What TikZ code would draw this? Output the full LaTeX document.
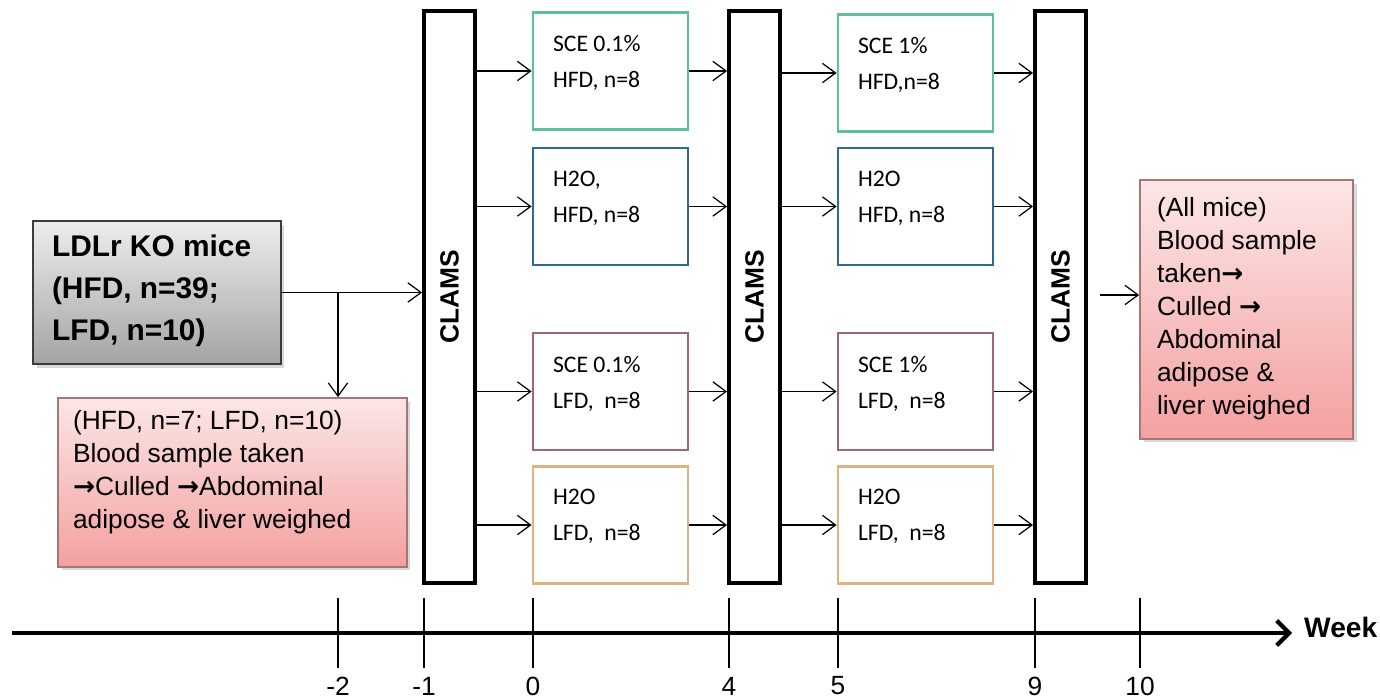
\documentclass[tikz,border=0pt]{standalone}
\usepackage{fontspec}
\setmainfont{Liberation Sans}
\newfontfamily\calibrifont{Carlito}
\newfontfamily\arrowfont{DejaVu Sans}
\usetikzlibrary{positioning, calc, arrows.meta, shadows}

\definecolor{scehfd}{HTML}{5FBF9F}
\definecolor{h2ohfd}{HTML}{2E6B8E}
\definecolor{scelfd}{HTML}{A0676C}
\definecolor{h2olfd}{HTML}{DDB37F}
\definecolor{pinktop}{HTML}{FCE6E6}
\definecolor{pinkbot}{HTML}{F4A0A0}
\definecolor{pinkedge}{HTML}{A07878}
\definecolor{greytop}{HTML}{EDEDED}
\definecolor{greybot}{HTML}{A4A4A4}
\definecolor{greyedge}{HTML}{3C3C3C}

\newcommand{\rarrow}{{\arrowfont\bfseries →}}
\newcommand{\boxtext}[3]{\parbox[c][#1][t]{#2}{\raggedright #3}}

\begin{document}
\begin{tikzpicture}[
    x=0.02cm, y=-0.02cm,
    arrow/.style={-{Straight Barb[length=7.5pt,width=11pt]}, line width=0.7pt},
    clams/.style={draw, line width=2.2pt, minimum width=1.02cm, minimum height=11.44cm, inner sep=0pt, font=\fontsize{15}{18}\selectfont\bfseries},
    diet/.style={draw=#1, line width=1.6pt, minimum width=3.1cm, minimum height=2.34cm, inner xsep=0.4cm, inner ysep=0.46cm, font=\calibrifont\fontsize{13.5}{20.5}\selectfont},
    cull/.style={draw=pinkedge, line width=1pt, top color=pinktop, bottom color=pinkbot, inner xsep=0.3cm, inner ysep=0.24cm, font=\fontsize{15}{18.8}\selectfont, drop shadow={shadow xshift=2pt, shadow yshift=-2pt, opacity=0.3}},
    mice/.style={draw=greyedge, line width=1.2pt, top color=greytop, bottom color=greybot, inner xsep=0.38cm, inner ysep=0.27cm, font=\fontsize{17}{23.9}\selectfont\bfseries, drop shadow={shadow xshift=2pt, shadow yshift=-2pt, opacity=0.3}},
    timeline/.style={line width=2pt, -{Straight Barb[length=7pt,width=14pt,line width=2.4pt]}},
    tick/.style={line width=0.6pt}
]
    \useasboundingbox (0,0) rectangle (1380,699);

    % Start
    \node[mice] (mice) at (157,292.5) {\boxtext{2.32cm}{4.2cm}{LDLr KO mice\\(HFD, n=39;\\LFD, n=10)}};
    \node[cull] (early) at (232.5,482.5) {\boxtext{2.9cm}{6.38cm}{(HFD, n=7; LFD, n=10)\\Blood sample taken\\\rarrow Culled \rarrow Abdominal\\adipose \& liver weighed}};

    % CLAMS
    \node[clams] (clams1) at (449.5,297) {\rotatebox{90}{CLAMS}};
    \node[clams] (clams2) at (754.5,297) {\rotatebox{90}{CLAMS}};
    \node[clams] (clams3) at (1060.5,297) {\rotatebox{90}{CLAMS}};

    % Weeks 0-4
    \node[diet=scehfd] (sce1h) at (610.5,71) {\boxtext{1.42cm}{2.3cm}{SCE 0.1\%\\HFD, n=8}};
    \node[diet=h2ohfd] (h2o1h) at (610.5,206.5) {\boxtext{1.42cm}{2.3cm}{H2O,\\HFD, n=8}};
    \node[diet=scelfd] (sce1l) at (610.5,391.5) {\boxtext{1.42cm}{2.3cm}{SCE 0.1\%\\LFD,~ n=8}};
    \node[diet=h2olfd] (h2o1l) at (610.5,525) {\boxtext{1.42cm}{2.3cm}{H2O\\LFD,~ n=8}};

    % Weeks 5-9
    \node[diet=scehfd] (sce5h) at (915.5,73) {\boxtext{1.42cm}{2.3cm}{SCE 1\%\\HFD,n=8}};
    \node[diet=h2ohfd] (h2o5h) at (915.5,206.5) {\boxtext{1.42cm}{2.3cm}{H2O\\HFD, n=8}};
    \node[diet=scelfd] (sce5l) at (915.5,391.5) {\boxtext{1.42cm}{2.3cm}{SCE 1\%\\LFD,~ n=8}};
    \node[diet=h2olfd] (h2o5l) at (915.5,525) {\boxtext{1.42cm}{2.3cm}{H2O\\LFD,~ n=8}};

    % End
    \node[cull, inner xsep=0.34cm, inner ysep=0.34cm] (final) at (1246.5,309.5) {\boxtext{4.5cm}{3.58cm}{(All mice)\\Blood sample\\taken\rarrow\\Culled \rarrow\\Abdominal\\adipose \&\\liver weighed}};

    % Connections
    \draw[arrow] (mice.east) -- (mice.east -| clams1.west);
    \coordinate (split) at (338,292.5);
    \draw[arrow] (split) -- (split |- early.north);
    \foreach \b in {sce1h, h2o1h, sce1l, h2o1l} {
        \draw[arrow] (clams1.east |- \b.west) -- (\b.west);
        \draw[arrow] (\b.east) -- (clams2.west |- \b.east);
    }
    \foreach \b in {sce5h, h2o5h, sce5l, h2o5l} {
        \draw[arrow] (clams2.east |- \b.west) -- (\b.west);
        \draw[arrow] (\b.east) -- (clams3.west |- \b.east);
    }
    \coordinate (exit) at (1100,295);
    \draw[arrow] (exit) -- (exit -| final.west);

    % Time axis
    \coordinate (tstart) at (12,633);
    \coordinate (tend) at (1292,633);
    \draw[timeline] (tstart) -- (tend);
    \node[anchor=west, font=\fontsize{16}{19}\selectfont\bfseries] (week) at (1298,627) {Week};
    \foreach \x/\w in {338/-2, 424/-1, 533/0, 729/4, 838/5, 1035/9, 1140/10} {
        \draw[tick] (\x,598) -- (\x,668);
        \node[font=\fontsize{15}{18}\selectfont] at (\x,686) {\w};
    }
\end{tikzpicture}
\end{document}
